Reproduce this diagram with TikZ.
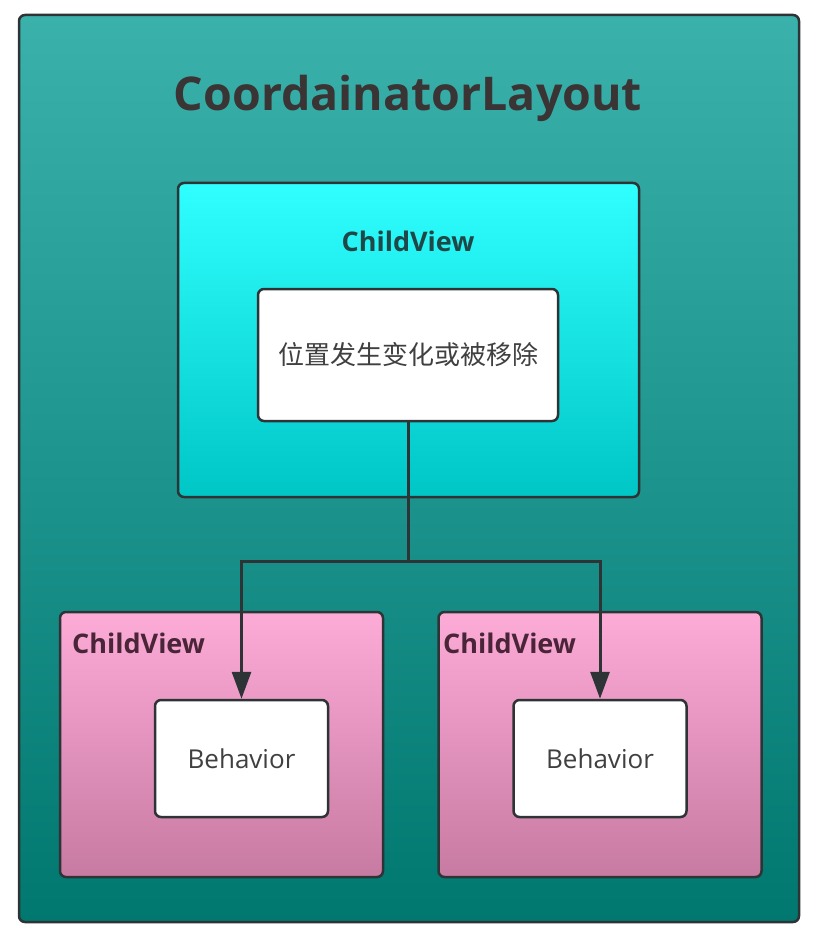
\documentclass[tikz,border=0pt]{standalone}
\usepackage{fontspec}
\setmainfont{Open Sans}
\newfontfamily\cjk{Noto Sans CJK SC}
\usetikzlibrary{arrows.meta}
\definecolor{layouttop}{HTML}{3BB1AC}
\definecolor{layoutbot}{HTML}{00776F}
\definecolor{childtop}{HTML}{30FFFF}
\definecolor{childbot}{HTML}{00C6C6}
\definecolor{pinktop}{HTML}{FDABD7}
\definecolor{pinkbot}{HTML}{C77AA2}
\definecolor{boxline}{HTML}{2E3436}
\definecolor{titletext}{HTML}{3A3434}
\definecolor{cyantext}{HTML}{1F4748}
\definecolor{pinktext}{HTML}{4A2538}
\definecolor{bodytext}{HTML}{404040}
\tikzset{
    box/.style={draw=boxline, line width=2.5pt, rounded corners=6pt, inner sep=0pt},
    whitebox/.style={box, fill=white},
    pinkbox/.style={box, top color=pinktop, bottom color=pinkbot, minimum width=323pt, minimum height=265pt},
    label/.style={font=\fontsize{27}{32}\selectfont\bfseries, inner sep=0pt},
    conn/.style={draw=boxline, line width=3pt},
}
\begin{document}
\begin{tikzpicture}[x=1pt,y=-1pt]
        \useasboundingbox (0,0) rectangle (818,936);
        \node[box, top color=layouttop, bottom color=layoutbot, minimum width=780pt, minimum height=907pt] (layout) at (409,468.5) {};
        \node[font=\fontsize{46.5}{52}\selectfont\bfseries, text=titletext] (title) at (408,98) {CoordainatorLayout};
        \node[box, top color=childtop, bottom color=childbot, minimum width=461pt, minimum height=314pt] (child) at (408.5,340) {};
        \node[label, text=cyantext] (childlabel) at (408,241) {ChildView};
        \node[whitebox, minimum width=300pt, minimum height=132pt, font=\cjk\fontsize{26}{30}\selectfont, text=bodytext] (change) at (408,355) {位置发生变化或被移除};
        \foreach \x/\lx/\bx/\n in {221.5/72/241.5/1,600/443/600/2}{
            \node[pinkbox] (pink\n) at (\x,744.5) {};
            \node[label, text=pinktext, anchor=west] (pinklabel\n) at (\lx,643) {ChildView};
            \node[whitebox, minimum width=173pt, minimum height=117pt, font=\fontsize{26}{30}\selectfont, text=bodytext] (beh\n) at (\bx,758.5) {Behavior};
        }
        \coordinate (fork) at (408,561);
        \draw[conn] (change.south) -- (fork);
        \foreach \n in {1,2}{
            \draw[conn, -{Triangle[length=27pt,width=19pt]}] (fork) -| (beh\n.north);
        }
    \end{tikzpicture}
\end{document}
